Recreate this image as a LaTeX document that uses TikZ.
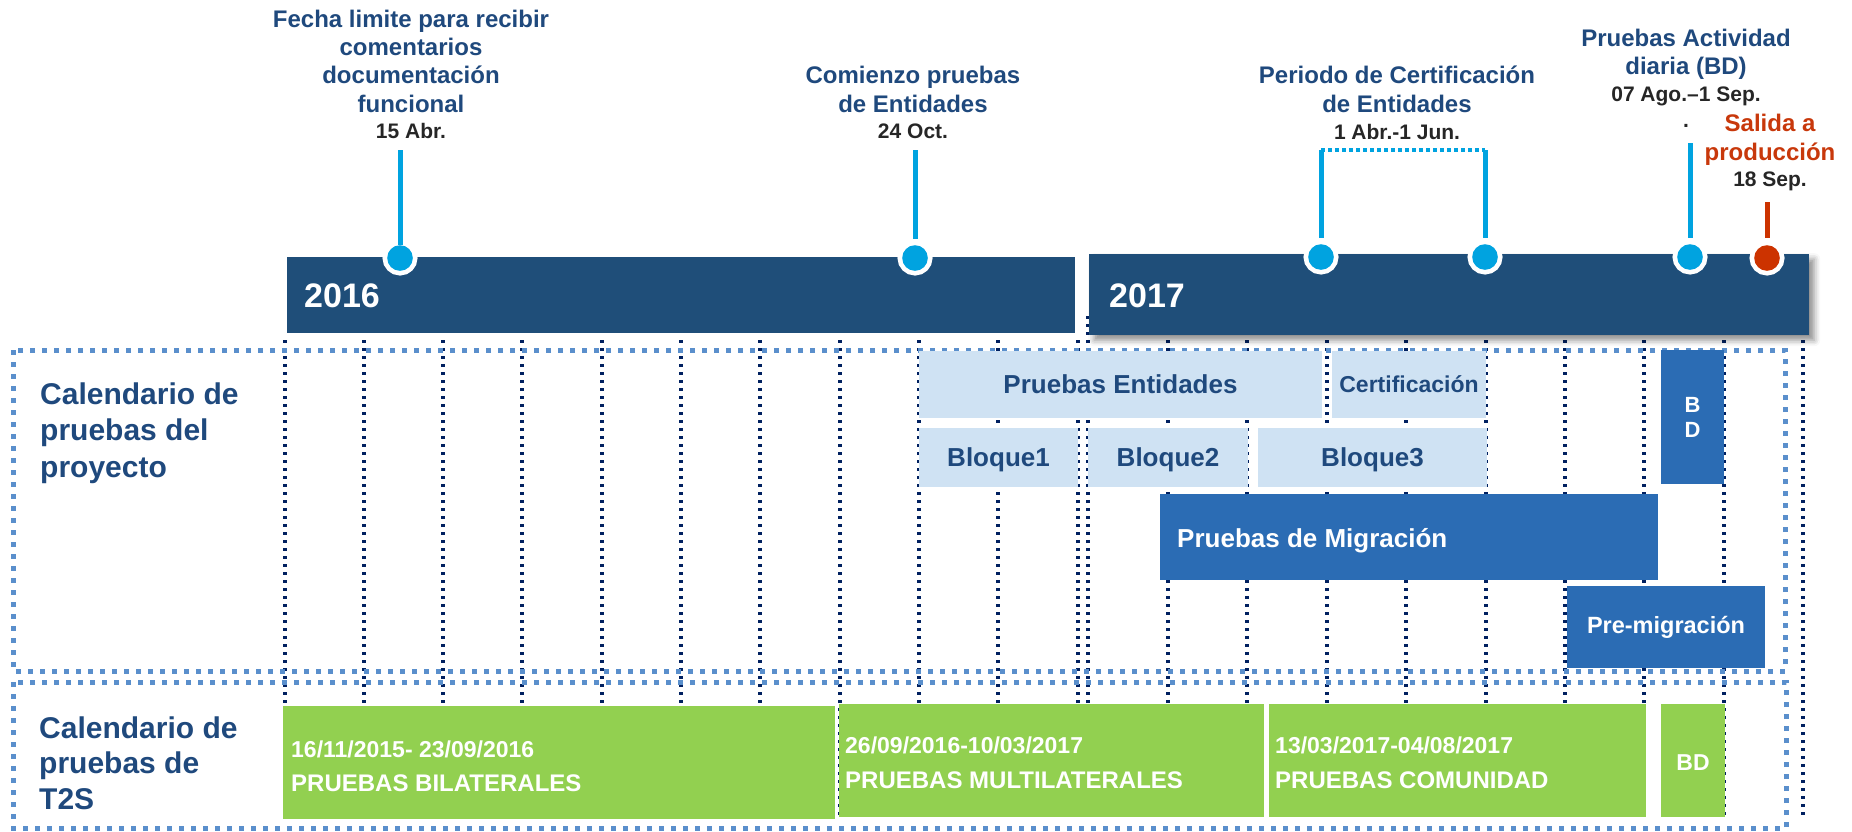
\documentclass[tikz,border=0pt]{standalone}
\usepackage{fontspec}
\setmainfont{Liberation Sans}
\usetikzlibrary{shadows.blur}
\definecolor{navybar}{HTML}{1F4E79}
\definecolor{navytxt}{HTML}{1F497D}
\definecolor{cyanm}{HTML}{00A3E0}
\definecolor{gridnavy}{HTML}{002060}
\definecolor{borderblue}{HTML}{5A8FCC}
\definecolor{lightbox}{HTML}{CFE2F3}
\definecolor{midbox}{HTML}{2B6CB4}
\definecolor{greenbox}{HTML}{92D050}
\definecolor{redm}{HTML}{CC3300}
\definecolor{redtxt}{HTML}{C8380B}
\definecolor{datetxt}{HTML}{262626}
\begin{document}
\begin{tikzpicture}[x=1pt,y=-1pt,
  every node/.style={inner sep=0pt},
  ttl/.style={anchor=base, font=\fontsize{24}{28}\selectfont\bfseries, text=navytxt},
  redttl/.style={ttl, text=redtxt},
  dte/.style={anchor=base, font=\fontsize{21}{25}\selectfont\bfseries, text=datetxt},
  sectlbl/.style={anchor=base west, font=\fontsize{30}{36}\selectfont\bfseries, text=navytxt},
  yearlbl/.style={anchor=base west, font=\fontsize{34}{38}\selectfont\bfseries, text=white},
  yearbar/.style={fill=navybar, anchor=north west},
  mdot/.style={circle, fill=cyanm, minimum size=25.6pt, outer sep=0pt, preaction={draw=white, line width=9.4pt}},
  reddot/.style={mdot, fill=redm},
  mstem/.style={draw=cyanm, line width=5pt},
  redstem/.style={draw=redm, line width=5pt},
  cyandots/.style={draw=cyanm, line width=4.5pt, dash pattern=on 3.5pt off 3.5pt},
  gridline/.style={draw=gridnavy, line width=3.3pt, dash pattern=on 3.3pt off 4.7pt},
  sectbox/.style={draw=borderblue, line width=5pt, dash pattern=on 5pt off 7pt},
  lbox/.style={fill=lightbox, text=navytxt, font=\fontsize{26}{30}\selectfont\bfseries, text height=18.5pt, text depth=0pt},
  mbox/.style={fill=midbox, text=white, font=\fontsize{24}{28}\selectfont\bfseries},
  gbox/.style={fill=greenbox, anchor=north west},
  gtxt/.style={anchor=base west, text=white, font=\fontsize{23}{28}\selectfont\bfseries},
  gcap/.style={gtxt, font=\fontsize{24}{28}\selectfont\bfseries},
]
\useasboundingbox (0,0) rectangle (1852,831);

% month grid
\foreach \x in {285,364,443,522,602,681,760,840,919,998,1078,1168,1247,1327,1406,1486,1565,1644,1724,1803}
  \draw[gridline] (\x,340) -- (\x,817);
\draw[gridline] (1088,316) -- (1088,817);

% section frames
\draw[sectbox] (13,350) rectangle (1785,671);
\draw[sectbox] (13,682) rectangle (1786,828);

% year bars
\node[yearbar, minimum width=788pt, minimum height=76pt] (bar16) at (287,257) {};
\node[yearbar, minimum width=720pt, minimum height=81pt,
  blur shadow={shadow xshift=5pt, shadow yshift=-5pt, shadow blur radius=6pt, shadow opacity=45}] (bar17) at (1089,254) {};
\node[yearlbl] (y16) at (304,307) {2016};
\node[yearlbl] (y17) at (1109,307) {2017};

% milestone dots
\node[mdot] (c1) at (400,258) {};
\node[mdot] (c2) at (915,258) {};
\node[mdot] (c3) at (1321,257) {};
\node[mdot] (c4) at (1485,257) {};
\node[mdot] (c5) at (1690,257) {};
\node[reddot] (c6) at (1767,258) {};

% stem tops
\coordinate (p1) at (400,150);
\coordinate (p2) at (915,150);
\coordinate (p3) at (1321,150);
\coordinate (p4) at (1485,150);
\coordinate (p5) at (1690,143);
\coordinate (p6) at (1767,202);

\draw[mstem] (p1) -- (c1);
\draw[mstem, shorten >=6pt] (p2) -- (c2);
\draw[mstem, shorten >=6pt] (p3) -- (c3);
\draw[mstem, shorten >=6pt] (p4) -- (c4);
\draw[mstem, shorten >=6pt] (p5) -- (c5);
\draw[redstem, shorten >=7pt] (p6) -- (c6);
\draw[cyandots] (p3) -- (p4);

% milestone labels
\node[ttl] (t1a) at (411,27) {Fecha limite para recibir};
\node[ttl] (t1b) at (411,55) {comentarios};
\node[ttl] (t1c) at (411,83) {documentación};
\node[ttl] (t1d) at (411,112) {funcional};
\node[dte] (t1e) at (411,138) {15 Abr.};

\node[ttl] (t2a) at (913,83) {Comienzo pruebas};
\node[ttl] (t2b) at (913,112) {de Entidades};
\node[dte] (t2c) at (913,138) {24 Oct.};

\node[ttl] (t3a) at (1397,83) {Periodo de Certificación};
\node[ttl] (t3b) at (1397,112) {de Entidades};
\node[dte] (t3c) at (1397,139) {1 Abr.-1 Jun.};

\node[ttl] (t5a) at (1686,46) {Pruebas Actividad};
\node[ttl] (t5b) at (1686,74) {diaria (BD)};
\node[dte] (t5c) at (1686,101) {07 Ago.–1 Sep.};
\node[dte] (t5d) at (1686,127) {.};

\node[redttl] (t6a) at (1770,131) {Salida a};
\node[redttl] (t6b) at (1770,160) {producción};
\node[dte] (t6c) at (1770,186) {18 Sep.};

% section labels
\node[sectlbl] (s1a) at (40,404) {Calendario de};
\node[sectlbl] (s1b) at (40,440) {pruebas del};
\node[sectlbl] (s1c) at (40,477) {proyecto};
\node[sectlbl] (s2a) at (39,738) {Calendario de};
\node[sectlbl] (s2b) at (39,773) {pruebas de};
\node[sectlbl] (s2c) at (39,809) {T2S};

% project boxes
\node[lbox, minimum width=403pt, minimum height=67pt] (pe) at (1120.5,384.5) {Pruebas Entidades};
\node[lbox, font=\fontsize{23}{27}\selectfont\bfseries, text height=16.5pt, minimum width=154pt, minimum height=67pt] (cert) at (1409,384.5) {Certificación};
\node[lbox, minimum width=159pt, minimum height=59pt] (b1) at (998.5,457.5) {Bloque1};
\node[lbox, minimum width=160pt, minimum height=59pt] (b2) at (1168,457.5) {Bloque2};
\node[lbox, minimum width=229pt, minimum height=59pt] (b3) at (1372.5,457.5) {Bloque3};
\node[mbox, anchor=north west, minimum width=498pt, minimum height=86pt] (mig) at (1160,494) {};
\node[anchor=base west, text=white, font=\fontsize{26}{30}\selectfont\bfseries] (migt) at (1177,547) {Pruebas de Migración};
\node[mbox, font=\fontsize{22}{25}\selectfont\bfseries, align=center, minimum width=63pt, minimum height=134pt] (bd1) at (1692.5,417) {B\\D};
\node[mbox, font=\fontsize{23.5}{28}\selectfont\bfseries, minimum width=198pt, minimum height=82pt] (pre) at (1666,627) {Pre-migración};

% T2S boxes
\node[gbox, minimum width=552pt, minimum height=113pt] (g1) at (283,706) {};
\node[gbox, minimum width=425pt, minimum height=113pt] (g2) at (839,704) {};
\node[gbox, minimum width=377pt, minimum height=113pt] (g3) at (1269,704) {};
\node[gbox, minimum width=64pt, minimum height=113pt] (g4) at (1661,704) {};
\node[gtxt] (g1a) at (291,757) {16/11/2015- 23/09/2016};
\node[gcap] (g1b) at (291,791) {PRUEBAS BILATERALES};
\node[gtxt] (g2a) at (845,753) {26/09/2016-10/03/2017};
\node[gcap] (g2b) at (845,788) {PRUEBAS MULTILATERALES};
\node[gtxt] (g3a) at (1275,753) {13/03/2017-04/08/2017};
\node[gcap] (g3b) at (1275,788) {PRUEBAS COMUNIDAD};
\node[gtxt, anchor=center] (g4a) at (1693,763) {BD};
\end{tikzpicture}
\end{document}
